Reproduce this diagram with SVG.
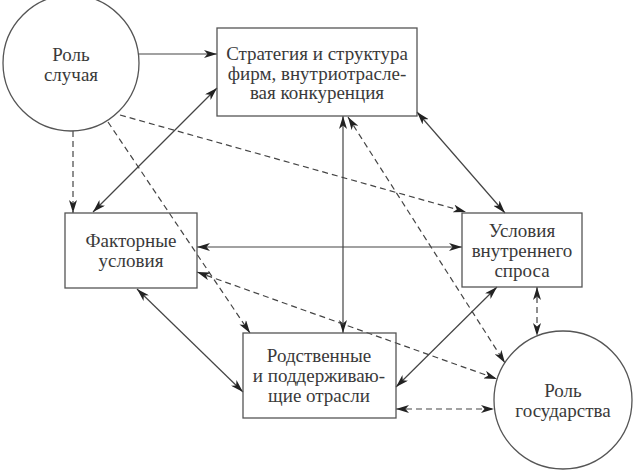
<svg xmlns="http://www.w3.org/2000/svg" width="637" height="475" viewBox="0 0 637 475">
<style>
.node{fill:none;stroke:#555;stroke-width:1.3}
.t{font-family:"Liberation Serif","DejaVu Serif",serif;font-size:19px;fill:#3a3a3a;text-anchor:middle}
.c{stroke:#444;stroke-width:1.2;fill:none}
.d{stroke-dasharray:6 4}
.one{marker-end:url(#ah)}
.two{marker-start:url(#ah);marker-end:url(#ah)}
</style>
<defs>
<marker id="ah" viewBox="0 0 13 8" refX="13" refY="4" markerWidth="13" markerHeight="8" markerUnits="userSpaceOnUse" orient="auto-start-reverse">
<path d="M0,0 L13,4 L0,8 L3.5,4 Z" fill="#222"/>
</marker>
</defs>
<rect width="637" height="475" fill="#fff"/>
<g id="connectors">
<line class="c one" x1="139" y1="54" x2="217" y2="54"/>
<line class="c two" x1="93" y1="212" x2="217" y2="88"/>
<line class="c d one" x1="73" y1="131" x2="73" y2="213"/>
<line class="c d one" x1="120" y1="115" x2="466" y2="212"/>
<line class="c d one" x1="108" y1="122" x2="250" y2="333"/>
<line class="c two" x1="417" y1="112" x2="505" y2="213"/>
<line class="c two" x1="343" y1="116" x2="343" y2="333"/>
<line class="c d two" x1="348" y1="117" x2="505" y2="363"/>
<line class="c two" x1="197" y1="247" x2="462" y2="247"/>
<line class="c d two" x1="197" y1="272" x2="497" y2="379"/>
<line class="c two" x1="137" y1="289" x2="243" y2="392"/>
<line class="c two" x1="497" y1="287" x2="396" y2="387"/>
<line class="c d two" x1="537" y1="287" x2="537" y2="336"/>
<line class="c d two" x1="396" y1="409" x2="494" y2="409"/>
</g>
<g id="chance">
<circle class="node" cx="71" cy="63" r="68"/>
<text class="t" x="71" y="61">Роль</text>
<text class="t" x="71" y="81">случая</text>
</g>
<g id="strategy">
<rect class="node" x="217" y="28" width="200" height="88"/>
<text class="t" x="317" y="60">Стратегия и структура</text>
<text class="t" x="317" y="80">фирм, внутриотрасле-</text>
<text class="t" x="317" y="99">вая конкуренция</text>
</g>
<g id="demand">
<rect class="node" x="462" y="213" width="120" height="74"/>
<text class="t" x="522" y="237">Условия</text>
<text class="t" x="522" y="257">внутреннего</text>
<text class="t" x="522" y="277">спроса</text>
</g>
<g id="factors">
<rect class="node" x="65" y="213" width="132" height="75"/>
<text class="t" x="131" y="247">Факторные</text>
<text class="t" x="131" y="267">условия</text>
</g>
<g id="related">
<rect class="node" x="243" y="333" width="153" height="85"/>
<text class="t" x="319" y="362">Родственные</text>
<text class="t" x="319" y="382">и поддерживаю-</text>
<text class="t" x="319" y="402">щие отрасли</text>
</g>
<g id="government">
<circle class="node" cx="563" cy="400" r="69"/>
<text class="t" x="563" y="397">Роль</text>
<text class="t" x="563" y="417">государства</text>
</g>
</svg>
